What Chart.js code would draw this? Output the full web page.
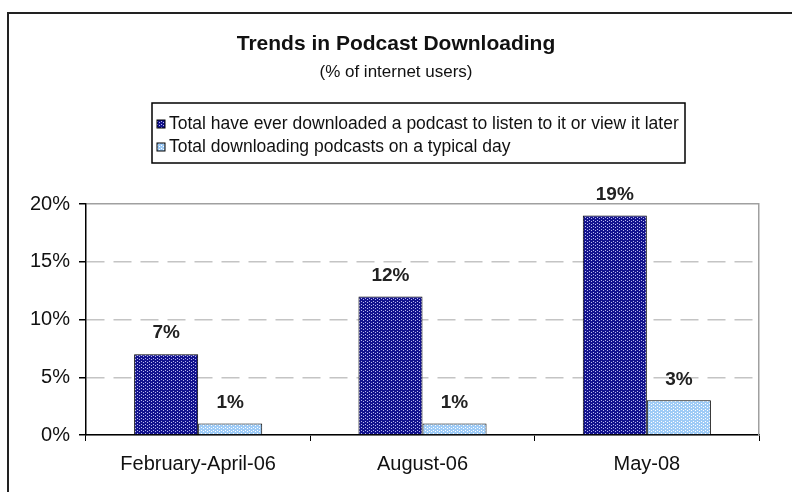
<!DOCTYPE html>
<html>
<head>
<meta charset="utf-8">
<script src="https://cdn.jsdelivr.net/npm/chart.js@4/dist/chart.umd.min.js"></script>
<style>
  body { margin: 0; background: #fff; }
  #wrap { width: 792px; height: 492px; }
</style>
</head>
<body>
<div id="wrap"><canvas id="bar-chart" width="792" height="492"></canvas></div>
<script>
// dati del grafico
var categorie = ['February-April-06', 'August-06', 'May-08'];
var serieTotale = [7, 12, 19];
var serieGiorno = [1, 1, 3];
var etichetteSerie = [
    'Total have ever downloaded a podcast to listen to it or view it later',
    'Total downloading podcasts on a typical day'
];
var tickY = [0, 5, 10, 15, 20];

// pattern a puntini per le barre
function makePattern(base, dot) {
    var c = document.createElement('canvas');
    c.width = 4;
    c.height = 3;
    var g = c.getContext('2d');
    g.fillStyle = base;
    g.fillRect(0, 0, 4, 3);
    g.fillStyle = dot;
    g.fillRect(1, 1, 1, 1);
    g.fillRect(3, 2, 1, 1);
    return g.createPattern(c, 'repeat');
}
var scuro = makePattern('#13138e', '#b8b8f0');
var chiaro = makePattern('#9ecbf6', '#ffffff');

// cornice esterna
var cornice = {
    id: 'cornice',
    beforeDraw: function (chart) {
        var ctx = chart.ctx;
        ctx.save();
        ctx.strokeStyle = '#222';
        ctx.lineWidth = 2;
        ctx.beginPath();
        ctx.moveTo(8, 492);
        ctx.lineTo(8, 13);
        ctx.lineTo(792, 13);
        ctx.stroke();
        ctx.restore();
    }
};

// legenda con riquadro
var legenda = {
    id: 'legenda',
    afterDraw: function (chart) {
        var ctx = chart.ctx;
        ctx.save();
        ctx.strokeStyle = '#000';
        ctx.lineWidth = 1.5;
        ctx.strokeRect(152, 103, 533, 60);
        var righe = [124, 147];
        chart.data.datasets.forEach(function (ds, i) {
            var y = righe[i];
            ctx.fillStyle = ds.backgroundColor;
            ctx.fillRect(157, y - 4, 8, 8);
            ctx.strokeStyle = '#000';
            ctx.lineWidth = 1;
            ctx.strokeRect(157, y - 4, 8, 8);
            ctx.fillStyle = '#111';
            ctx.font = '17.5px "Liberation Sans", Arial, sans-serif';
            ctx.textBaseline = 'middle';
            ctx.fillText(ds.label, 169, y);
        });
        ctx.restore();
    }
};

// etichette dei valori sopra le barre
var valori = {
    id: 'valori',
    afterDatasetsDraw: function (chart) {
        var ctx = chart.ctx;
        ctx.save();
        ctx.font = 'bold 19px "Liberation Sans", Arial, sans-serif';
        ctx.fillStyle = '#222';
        ctx.textAlign = 'center';
        ctx.textBaseline = 'middle';
        chart.data.datasets.forEach(function (ds, i) {
            chart.getDatasetMeta(i).data.forEach(function (bar, j) {
                ctx.fillText(ds.data[j] + '%', bar.x, bar.y - 21);
            });
        });
        ctx.restore();
    }
};

var ctx = document.getElementById('bar-chart');
var chart = new Chart(ctx, {
    type: 'bar',
    data: {
        labels: categorie,
        datasets: [{
            label: etichetteSerie[0],
            data: serieTotale,
            backgroundColor: scuro,
            borderColor: '#000',
            borderWidth: 1
        }, {
            label: etichetteSerie[1],
            data: serieGiorno,
            backgroundColor: chiaro,
            borderColor: '#000',
            borderWidth: 1
        }]
    },
    options: {
        responsive: false,
        animation: false,
        categoryPercentage: 0.571,
        barPercentage: 1,
        layout: { padding: 0 },
        plugins: {
            legend: { display: false },
            tooltip: { enabled: false },
            title: {
                display: true,
                text: 'Trends in Podcast Downloading',
                color: '#111',
                font: { family: 'Liberation Sans', size: 21, weight: 'bold', lineHeight: 1.2 },
                padding: { top: 32, bottom: 3 }
            },
            subtitle: {
                display: true,
                text: '(% of internet users)',
                color: '#111',
                font: { family: 'Liberation Sans', size: 17, lineHeight: 1.2 },
                padding: { top: 2, bottom: 121.4 }
            }
        },
        scales: {
            x: {
                afterFit: function (s) { s.height = 57; },
                grid: { display: true, drawOnChartArea: false, tickLength: 6, color: '#000', offset: true },
                border: { color: '#000', width: 1.5 },
                ticks: {
                    color: '#111',
                    padding: 11,
                    font: { family: 'Liberation Sans', size: 20 }
                }
            },
            y: {
                min: 0,
                max: 20,
                afterFit: function (s) { s.width = 86; },
                afterBuildTicks: function (s) {
                    s.ticks = tickY.map(function (v) { return { value: v }; });
                },
                grid: {
                    color: function (c) { return c.tick && c.tick.value === 20 ? '#a0a0a0' : '#c4c4c4'; },
                    lineWidth: 1.5,
                    tickLength: 7,
                    tickColor: '#000'
                },
                border: {
                    color: '#000',
                    width: 1.5,
                    dash: function (c) { return c.tick && (c.tick.value === 20 || c.tick.value === 0) ? [] : [18, 9]; }
                },
                ticks: {
                    color: '#111',
                    padding: 9,
                    font: { family: 'Liberation Sans', size: 20 },
                    callback: function (v) { return v + '%'; }
                }
            },
            y2: {
                position: 'right',
                min: 0,
                max: 20,
                afterFit: function (s) { s.width = 33; },
                grid: { display: false },
                border: { color: '#a0a0a0', width: 1.5 },
                ticks: { display: false }
            }
        }
    },
    plugins: [cornice, legenda, valori]
});
</script>
</body>
</html>
